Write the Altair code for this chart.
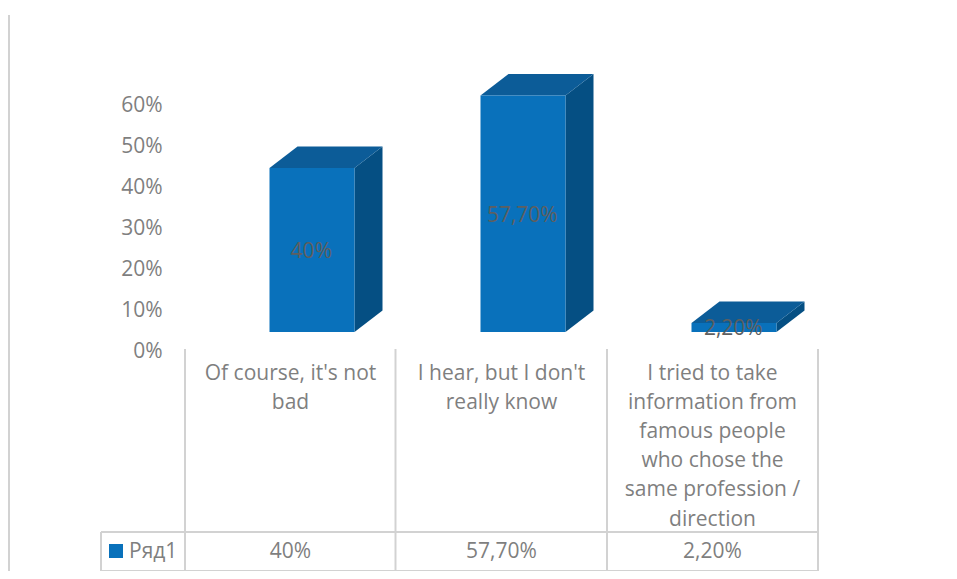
import altair as alt
import pandas as pd

CATEGORIES = ["Of course, it's not\nbad", "I hear, but I don't\nreally know",
              "I tried to take\ninformation from\nfamous people\nwho chose the\nsame profession /\ndirection"]
VALUES = [40, 57.7, 2.2]
VALUE_LABELS = ["40%", "57,70%", "2,20%"]
SERIES = "Ряд1"
TICKS = [0, 10, 20, 30, 40, 50, 60]

FRONT, TOP, SIDE = "#0971BB", "#0C5C98", "#054F83"
GRID, TXT, LBL = "#D2D2D2", "#7F7F7F", "#5F5F5F"
FONT = "Open Sans"
FS = 21

# page geometry -> chart scales
W, H = 941, 563
PX_X, X0 = 211.0, 185.0
PX_Y, Y0 = 4.1, 349.0
xdom = [(8 - X0) / PX_X, (8 + W - X0) / PX_X]
ydom = [(Y0 - (8 + H)) / PX_Y, (Y0 - 8) / PX_Y]
xs = alt.Scale(domain=xdom, range=[0, W], nice=False, zero=False)
ys = alt.Scale(domain=ydom, range=[H, 0], nice=False, zero=False)

BAR_START, BAR_W, DEPTH_X = 84.5 / PX_X, 85 / PX_X, 28 / PX_X
BASE, DEPTH_Y = 17 / PX_Y, 21.5 / PX_Y

front, faces, labels = [], [], []
for i, v in enumerate(VALUES):
    x0, x1 = i + BAR_START, i + BAR_START + BAR_W
    xb = x1 + DEPTH_X
    t = BASE + v
    front.append(dict(x=x0, x2=x1, y=BASE, y2=t))
    for px, py, py2 in [(x1, BASE, t), (xb, BASE + DEPTH_Y, t + DEPTH_Y)]:
        faces.append(dict(bar=f"s{i}", face="side", x=px, y=py, y2=py2))
    for px, py, py2 in [(x0, t, t), (x0 + DEPTH_X, t, t + DEPTH_Y), (x1, t, t + DEPTH_Y), (xb, t + DEPTH_Y, t + DEPTH_Y)]:
        faces.append(dict(bar=f"t{i}", face="top", x=px, y=py, y2=py2))
    labels.append(dict(x=(x0 + x1) / 2 - 0.7 / PX_X, y=BASE + v / 2 - 2 / PX_Y, text=VALUE_LABELS[i]))

X = lambda f="x": alt.X(f"{f}:Q", scale=xs, axis=None)
Y = lambda f="y": alt.Y(f"{f}:Q", scale=ys, axis=None)

# axis layer
axis_layer = alt.Chart(pd.DataFrame({"v": TICKS})).mark_point(opacity=0).encode(
    x=alt.value(0),
    y=alt.Y("v:Q", scale=ys, axis=alt.Axis(
        values=TICKS, labelExpr="datum.value + '%'", grid=False, domain=False, ticks=False, title=None,
        labelFont=FONT, labelFontSize=FS, labelColor=TXT, labelPadding=0, labelOffset=2, offset=-(162 - 8))))

front_layer = alt.Chart(pd.DataFrame(front)).mark_rect(color=FRONT).encode(
    x=X(), x2="x2:Q", y=Y(), y2="y2:Q")
face_layers = [
    alt.Chart(pd.DataFrame([f for f in faces if f["face"] == name])).mark_area(color=col, orient="vertical", interpolate="linear").encode(
        x=X(), y=Y(), y2="y2:Q", detail="bar:N")
    for name, col in (("side", SIDE), ("top", TOP))
]
label_layer = alt.Chart(pd.DataFrame(labels)).mark_text(font=FONT, fontSize=FS, color=LBL, baseline="middle").encode(
    x=X(), y=Y(), text="text:N")

# data table: lines
def vline(px, top, bottom=571):
    return dict(x=px - 8, y=top - 8, y2=bottom - 8)
vlines = [vline(9, 15, 587), vline(101, 532), vline(185, 349), vline(395.5, 349), vline(607, 349), vline(818, 349)]
hlines = [dict(x=101 - 8, x2=818 - 8, y=532 - 8), dict(x=101 - 8, x2=818 - 8, y=571 - 8)]
px_x = alt.Scale(domain=[0, W], range=[0, W])
px_y = alt.Scale(domain=[0, H], range=[0, H])
v_layer = alt.Chart(pd.DataFrame(vlines)).mark_rule(color=GRID, strokeWidth=2).encode(
    x=alt.X("x:Q", scale=px_x, axis=None), y=alt.Y("y:Q", scale=px_y, axis=None), y2="y2:Q")
h_layer = alt.Chart(pd.DataFrame(hlines)).mark_rule(color=GRID, strokeWidth=2).encode(
    x=alt.X("x:Q", scale=px_x, axis=None), x2="x2:Q", y=alt.Y("y:Q", scale=px_y, axis=None))

cat_df = pd.DataFrame({"x": [i + 0.5 for i in range(3)], "t": [c.split("\n") for c in CATEGORIES], "v": VALUE_LABELS})
cat_layer = alt.Chart(cat_df).mark_text(font=FONT, fontSize=FS, color=TXT, baseline="top", lineHeight=29.1).encode(
    x=X(), y=alt.value(372 - 8 - 9), text="t:N")
val_layer = alt.Chart(cat_df).mark_text(font=FONT, fontSize=FS, color=TXT, baseline="middle").encode(
    x=X(), y=alt.value(552 - 8), text="v:N")

leg_df = pd.DataFrame({"s": [SERIES]})
swatch = alt.Chart(leg_df).mark_square(color=FRONT, size=196, opacity=1, filled=True).encode(
    x=alt.value(116 - 8), y=alt.value(551 - 8))
leg_txt = alt.Chart(leg_df).mark_text(font=FONT, fontSize=FS, color=TXT, align="left", baseline="middle").encode(
    x=alt.value(129 - 8), y=alt.value(552 - 8), text="s:N")

chart = alt.layer(
    axis_layer, v_layer, h_layer, *face_layers, front_layer, label_layer, cat_layer, val_layer, swatch, leg_txt
).resolve_scale(x="independent", y="independent").properties(
    width=W, height=H, autosize=alt.AutoSizeParams(type="none"), padding=0, background="white"
).configure_view(stroke=None)

chart.save("out.html", embed_options={"renderer": "svg", "actions": False})
